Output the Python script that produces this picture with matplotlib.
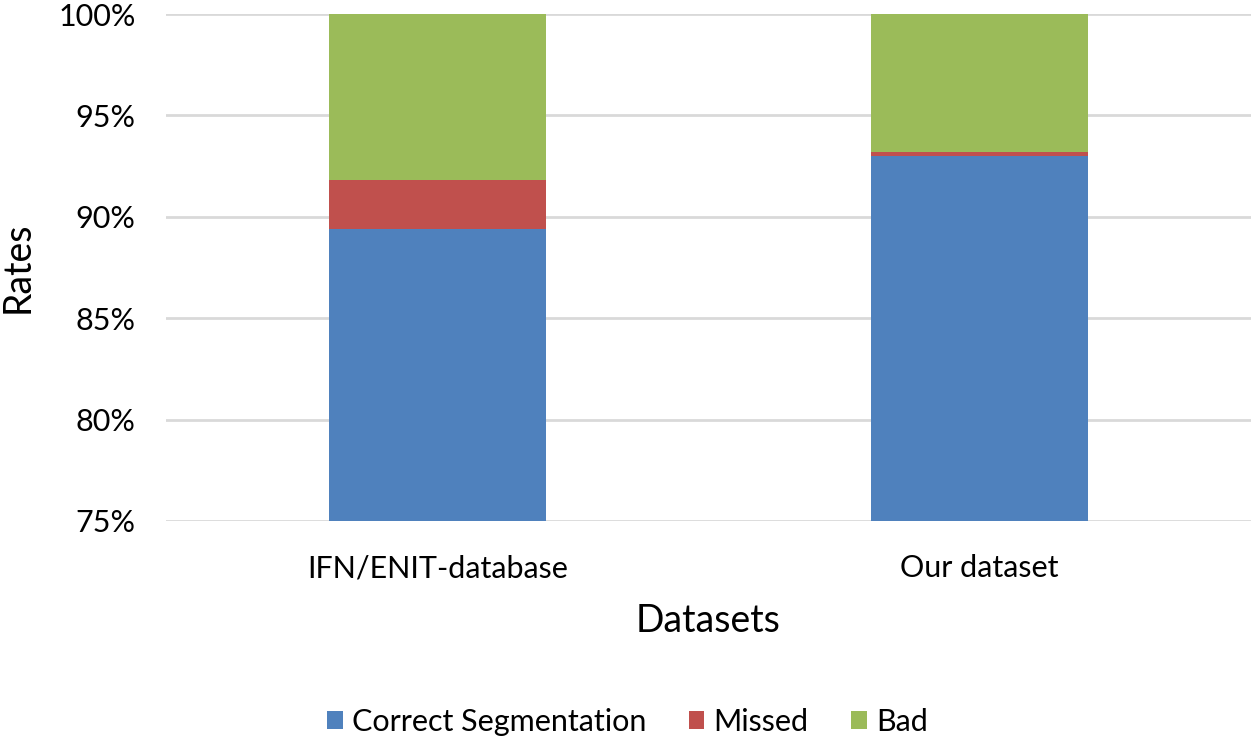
import matplotlib
matplotlib.use("Agg")
import matplotlib.pyplot as plt
from matplotlib.ticker import FuncFormatter

plt.rcParams['font.family'] = ['Lato', 'DejaVu Sans']

categories = ["IFN/ENIT-database", "Our dataset"]
correct = [89.4, 93.0]
missed = [2.4, 0.2]
bad = [8.2, 6.8]
series_names = ["Correct Segmentation", "Missed", "Bad"]
colors = ["#4F81BD", "#C0504D", "#9BBB59"]

fig = plt.figure(figsize=(12.55, 7.42), dpi=100)
ax = fig.add_axes([166/1255, 1 - 521/742, (1251-166)/1255, (521-14)/742])

x = list(range(len(categories)))
w = 0.4
ax.bar(x, correct, w, color=colors[0], label=series_names[0], zorder=3)
bottom2 = correct
ax.bar(x, missed, w, bottom=bottom2, color=colors[1], label=series_names[1], zorder=3)
bottom3 = [c + m for c, m in zip(correct, missed)]
ax.bar(x, bad, w, bottom=bottom3, color=colors[2], label=series_names[2], zorder=3)

ax.set_ylim(75, 100)
ax.set_xlim(-0.5, 1.5)
ax.set_yticks([75, 80, 85, 90, 95, 100])
ax.yaxis.set_major_formatter(FuncFormatter(lambda v, p: f"{v:.0f}%"))
ax.set_xticks(x)
ax.set_xticklabels(categories)
ax.tick_params(axis='both', length=0, labelsize=22, colors='#000000')
ax.tick_params(axis='y', pad=22)
ax.tick_params(axis='x', pad=24)
ax.grid(axis='y', color='#D9D9D9', linewidth=2, zorder=0)
for s in ax.spines.values():
    s.set_visible(False)

ax.set_xlabel("Datasets", fontsize=27, labelpad=15)
ax.set_ylabel("Rates", fontsize=27, labelpad=16)

leg = fig.legend(loc='center', bbox_to_anchor=(0.5, 1 - 722/742), ncol=3, frameon=False,
                 fontsize=22, handlelength=0.5, handleheight=0.5, columnspacing=1.4,
                 handletextpad=0.3)

fig.savefig("out.png", dpi=100)
